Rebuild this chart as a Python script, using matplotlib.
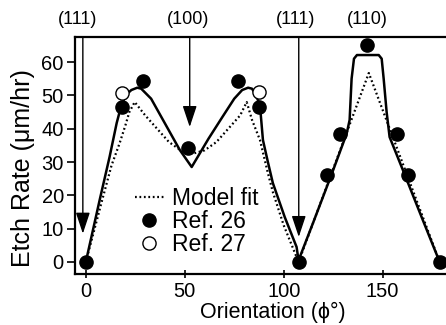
import matplotlib
matplotlib.use("Agg")
import matplotlib.pyplot as plt
from matplotlib.transforms import blended_transform_factory

# measured points
ref26_x = [0, 18.5, 29, 51.5, 77, 87.5, 107.5, 122, 128.3, 142, 157, 162.6, 178.8]
ref26_y = [0, 46.5, 54.3, 34.2, 54.3, 46.5, 0, 26, 38.5, 65, 38.5, 26, 0]
ref27_x = [18.5, 87.5]
ref27_y = [50.8, 51]

# solid trend line through the data
trend_x = [0, 7, 12, 15.6, 17.5, 19, 21, 23, 26, 28, 33, 41, 47.5, 53.5,
           56, 62, 69, 75, 79, 82, 84, 86, 88, 89.5, 92, 94.5, 100.5,
           106.5, 107.5, 115, 124, 131.8, 133.3, 134.3, 135.5, 137, 148,
           149.5, 150.5, 152, 153.5, 160, 170, 178.8]
trend_y = [0, 18.6, 31.5, 41.7, 46, 48.5, 50.5, 51.6, 52.3, 52, 49, 40.5,
           33.6, 28.5, 31, 37, 43.5, 49, 51.6, 52.3, 52, 50, 47, 36.6, 30,
           23.7, 13.5, 4.5, 0.5, 12, 26, 38.5, 42.6, 55, 61, 62.1, 62.1, 61,
           55, 45, 37.5, 27.9, 13, 0]

# model fit (dotted)
model_x = [0, 8, 13, 17, 20, 22, 24.7, 30, 36, 42, 48, 54, 60, 66, 72,
           78, 81.3, 84, 88, 92, 94.5, 100, 107.5, 143, 178.8]
model_y = [0, 18, 29, 35.5, 41, 45, 48, 44, 40, 36, 33.5, 32.5, 33.5, 36,
           40, 44, 48, 42.6, 36.6, 26.7, 21, 11, 0, 56.7, 0]

# crystal planes marked above the axes
plane_labels = ["(111)", "(100)", "(111)", "(110)"]
plane_label_x = [-4, 51.5, 106, 142]
arrow_x = [-1.5, 52.5, 107.6]
arrow_tip_y = [8.5, 40.5, 7.5]

x_ticks = [0, 50, 100, 150]
y_ticks = [0, 10, 20, 30, 40, 50, 60]


def draw_chart() -> None:
    """
    Draw etch rate versus orientation and save to out.png.
    """
    plt.rcParams["font.family"] = ["Liberation Sans", "DejaVu Sans"]
    plt.rcParams["font.size"] = 14.5

    fig = plt.figure(figsize=(4.46, 3.25), dpi=100)
    ax = fig.add_axes([0.168, 0.157, 0.832, 0.729])

    ax.plot(trend_x, trend_y, color="black", lw=1.8, zorder=3)
    ax.plot(model_x, model_y, color="black", lw=1.6,
            linestyle=(0, (0.8, 1.2)), label="Model fit", zorder=2)
    ax.plot(ref26_x, ref26_y, "o", color="black", ms=9.5,
            label="Ref. 26", zorder=4)
    ax.plot(ref27_x, ref27_y, "o", mfc="white", mec="black", mew=1.0,
            ms=9.5, label="Ref. 27", zorder=4)

    top = 67.5
    for xa, tip in zip(arrow_x, arrow_tip_y):
        ax.annotate("", xy=(xa, tip), xytext=(xa, top),
                    arrowprops=dict(arrowstyle="-|>,head_length=0.9,"
                                    "head_width=0.3",
                                    color="black", lw=1.0,
                                    shrinkA=0, shrinkB=0))

    trans = blended_transform_factory(ax.transData, ax.transAxes)
    for label, xl in zip(plane_labels, plane_label_x):
        ax.text(xl, 1.072, label, transform=trans, ha="center",
                va="center", fontsize=13)

    ax.set_xlim(-5.5, 182)
    ax.set_ylim(-3.6, top)
    ax.set_xticks(x_ticks)
    ax.set_yticks(y_ticks)
    ax.tick_params(axis="y", direction="out", length=6, width=1.2, pad=2)
    ax.tick_params(axis="x", direction="inout", length=6, width=1.2, pad=3)
    for side in ["left", "bottom", "top"]:
        ax.spines[side].set_linewidth(1.6)
    ax.spines["right"].set_visible(False)

    ax.set_xlabel("Orientation (ϕ°)", fontsize=15.5)
    ax.xaxis.set_label_coords(0.534, -0.118)
    ax.set_ylabel("Etch Rate (μm/hr)", fontsize=18)
    ax.yaxis.set_label_coords(-0.108, 0.447)

    ax.legend(loc="upper left", bbox_to_anchor=(0.162, 0.365),
              frameon=False, borderpad=0, borderaxespad=0, fontsize=16.5,
              handlelength=1.25, handletextpad=0.35, labelspacing=0.0)

    fig.savefig("out.png", dpi=100)
    plt.close(fig)


def main() -> None:
    draw_chart()


if __name__ == "__main__":
    main()
